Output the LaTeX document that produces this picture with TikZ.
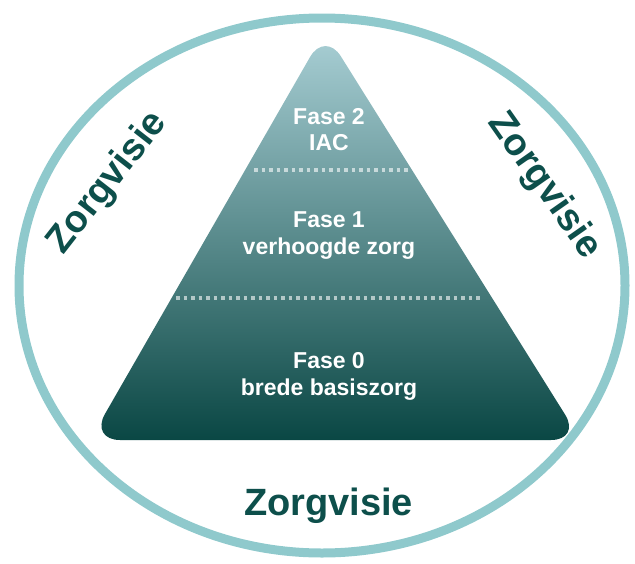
\documentclass[tikz,border=0pt]{standalone}
\usepackage{fontspec}
\setmainfont{Liberation Sans}
\definecolor{ringteal}{HTML}{8FC9CC}
\definecolor{zorggreen}{HTML}{0D4F4B}
\definecolor{pyrtop}{HTML}{AAD0D6}
\definecolor{pyrbot}{HTML}{0A4744}

\begin{document}
\begin{tikzpicture}[x=1pt,y=-1pt,
	fase/.style={align=center,text=white,inner sep=0pt,font=\fontsize{23}{26.5}\selectfont\bfseries},
	visie/.style={text=zorggreen,inner sep=0pt,font=\fontsize{38}{40}\selectfont\bfseries},
	dotline/.style={white,opacity=0.6,line width=3.5pt,dash pattern=on 3.5pt off 4pt}]
		\useasboundingbox (0,0) rectangle (635,563);
		\draw [ringteal,line width=9pt] (322,285.5) ellipse [x radius=303,y radius=267.5];
		\shade [top color=pyrtop,bottom color=pyrbot,rounded corners=30pt] (335,440) -- (581,440) -- (325,31) -- (90,440) -- cycle;

		\coordinate (top2l) at (254,170);
		\coordinate (top2r) at (410,170);
		\coordinate (top1l) at (176,298);
		\coordinate (top1r) at (482,298);
		\draw [dotline] (top2l) -- (top2r);
		\draw [dotline] (top1l) -- (top1r);

		\node (fase2) [fase] at (329,129.5) {Fase 2\\IAC};
		\node (fase1) [fase] at (329,235.5) {Fase 1\\verhoogde zorg};
		\node (fase0) [fase] at (329,376.5) {Fase 0\\brede basiszorg};

		\node (visieL) [visie,rotate=52]  at (108,183) {Zorgvisie};
		\node (visieR) [visie,rotate=-55] at (544,186) {Zorgvisie};
		\node (visieB) [visie]            at (328.5,505.5) {Zorgvisie};
	\end{tikzpicture}
\end{document}
